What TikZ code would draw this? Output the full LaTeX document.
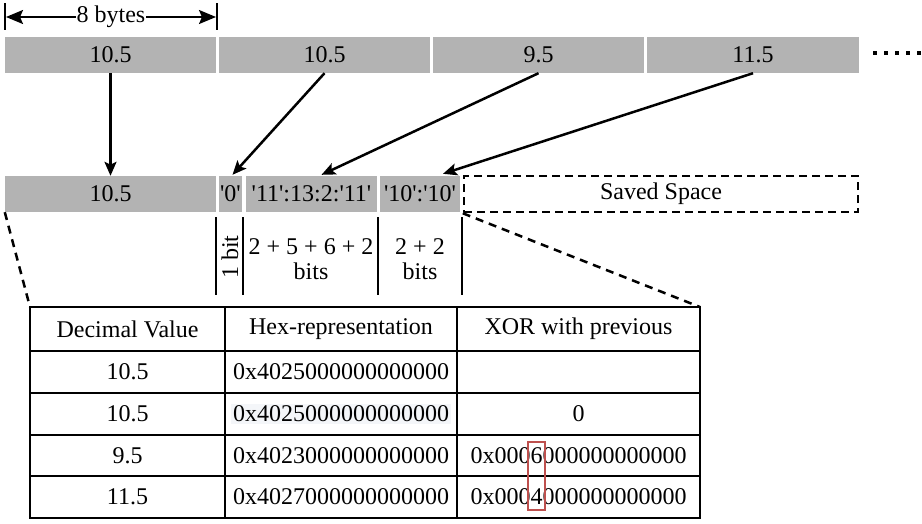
\documentclass[tikz,border=0pt]{standalone}
\usepackage{fontspec}
\setmainfont{Liberation Serif}[Ligatures=TeXOff]
\usetikzlibrary{arrows.meta,calc}
\definecolor{cellgray}{RGB}{179,179,179}
\definecolor{hlred}{RGB}{190,80,78}
\definecolor{faint}{RGB}{244,246,249}
\begin{document}
\begin{tikzpicture}[x=1pt,y=-1pt,
  every node/.style={font=\fontsize{24}{28}\selectfont},
  gbox/.style={fill=cellgray,draw=none,inner sep=0pt,minimum height=36pt},
  savebox/.style={draw=black,line width=2.5pt,dash pattern=on 8pt off 5pt,inner sep=0pt,minimum height=36pt},
  pointer/.style={line width=2.5pt,-{Stealth[length=14pt,width=12pt,inset=3pt]}},
  dimarrow/.style={line width=2pt,{Stealth[length=17pt,width=14pt,inset=3pt]}-{Stealth[length=17pt,width=14pt,inset=3pt]}},
  sep/.style={line width=2.5pt},
  zoomline/.style={line width=2.5pt,dash pattern=on 8pt off 6pt},
  tab/.style={line width=2pt},
  txt/.style={inner sep=0pt,anchor=center}]
\useasboundingbox (0,0) rectangle (922,523);

% top row
\node[gbox,minimum width=211pt] (t1) at (110.5,55) {10.5};
\node[gbox,minimum width=211pt] (t2) at (324.5,55) {10.5};
\node[gbox,minimum width=211pt] (t3) at (538.5,55) {9.5};
\node[gbox,minimum width=212pt] (t4) at (753,55) {11.5};
\coordinate (d1) at (873,53);
\coordinate (d2) at (922,53);
\draw[line width=4pt,dash pattern=on 4pt off 7pt] (d1) -- (d2);

% 8 bytes dimension
\coordinate (v1a) at (5,3);
\coordinate (v1b) at (5,30);
\coordinate (v2a) at (217,3);
\coordinate (v2b) at (217,30);
\draw[line width=2pt] (v1a) -- (v1b);
\draw[line width=2pt] (v2a) -- (v2b);
\coordinate (da) at (6,17);
\coordinate (db) at (216,17);
\draw[dimarrow] (da) -- (db);
\node[fill=white,inner sep=1pt] (bytes) at (111,17) {8 bytes};

% second row
\node[gbox,minimum width=211pt] (b1) at (110.5,194) {10.5};
\node[gbox,minimum width=23pt] (b2) at (230.5,194) {'0'};
\node[gbox,minimum width=131pt] (b3) at (311.5,194) {'11':13:2:'11'};
\node[gbox,minimum width=80pt] (b4) at (420,194) {'10':'10'};
\node[savebox,minimum width=394pt] (sv) at (661,194) {Saved Space};

% pointers
\draw[pointer] (t1.south) -- (b1.north);
\draw[pointer] (t2.south) -- ($(b2.north)+(2,-1)$);
\draw[pointer] (t3.south) -- ($(b3.north)+(10,-1)$);
\draw[pointer] (t4.south) -- ($(b4.north)+(23,-2)$);

% bit separators
\coordinate (s1a) at (216,217); \coordinate (s1b) at (216,295);
\coordinate (s2a) at (243,217); \coordinate (s2b) at (243,295);
\coordinate (s3a) at (378,217); \coordinate (s3b) at (378,295);
\coordinate (s4a) at (462,217); \coordinate (s4b) at (462,295);
\draw[sep] (s1a) -- (s1b);
\draw[sep] (s2a) -- (s2b);
\draw[sep] (s3a) -- (s3b);
\draw[sep] (s4a) -- (s4b);
\node[txt,rotate=90] (onebit) at (230,257) {1 bit};
\node[txt] (bits1a) at (311,247) {2 + 5 + 6 + 2};
\node[txt] (bits1b) at (311,271) {bits};
\node[txt] (bits2a) at (420,247) {2 + 2};
\node[txt] (bits2b) at (420,271) {bits};

% zoom lines
\coordinate (tl) at (30,307);
\coordinate (tr) at (700,307);
\draw[zoomline] (b1.south west) -- (tl);
\draw[zoomline] (sv.south west) -- (tr);

% table
\coordinate (tbr) at (700,518);
\draw[tab] (tl) rectangle (tbr);
\foreach \yy in {351,393,435,476} \draw[tab] (30,\yy) -- (700,\yy);
\foreach \xx in {225,457} \draw[tab] (\xx,307) -- (\xx,518);

\node[txt] (h1) at (127.5,329) {Decimal Value};
\node[txt] (h2) at (341,329) {Hex-representation};
\node[txt] (h3) at (578.5,329) {XOR with previous};

\node[txt] (r1a) at (127.5,372) {10.5};
\node[txt] (r1b) at (341,372) {0x4025000000000000};

\node[txt] (r2a) at (127.5,414) {10.5};
\node[fill=faint,inner sep=2pt] (r2b) at (341,414) {0x4025000000000000};
\node[txt] (r2c) at (578.5,414) {0};

\node[txt] (r3a) at (127.5,455.5) {9.5};
\node[txt] (r3b) at (341,455.5) {0x4023000000000000};
\node[txt] (r3c) at (578.5,455.5) {0x0006000000000000};

\node[txt] (r4a) at (127.5,497) {11.5};
\node[txt] (r4b) at (341,497) {0x4027000000000000};
\node[txt] (r4c) at (578.5,497) {0x0004000000000000};

\coordinate (hl1) at (528,442);
\coordinate (hl2) at (545,510);
\draw[hlred,line width=2pt] (hl1) rectangle (hl2);
\end{tikzpicture}
\end{document}
